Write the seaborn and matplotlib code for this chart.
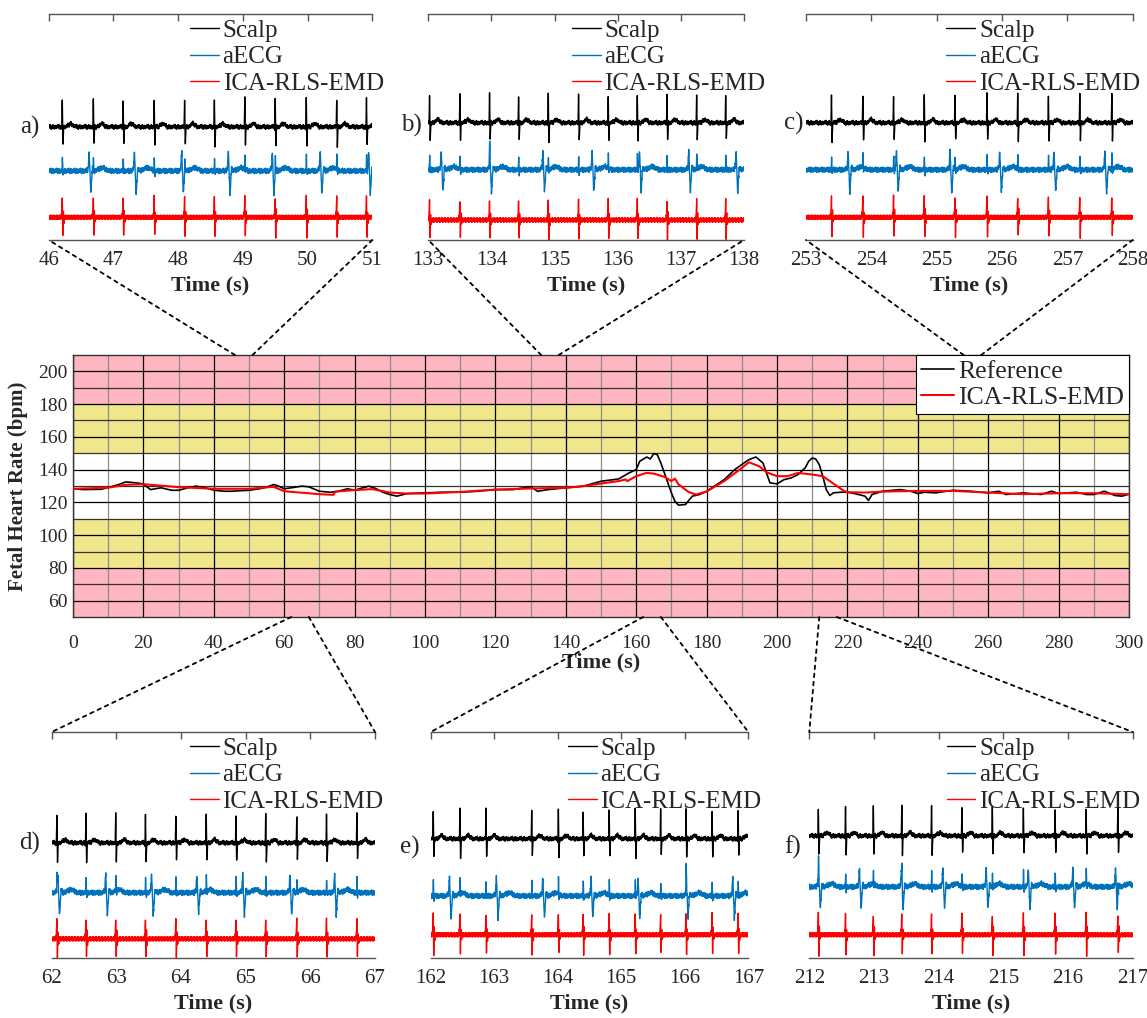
import matplotlib

matplotlib.use("Agg")
import matplotlib.pyplot as plt
from matplotlib.lines import Line2D
from matplotlib.patches import ConnectionPatch
import numpy as np
import seaborn as sns

# ---- fetal heart rate trace (main panel) ----
REF_TIME = [0, 3, 8, 10, 13, 15, 18, 20, 22, 25, 28, 30, 33, 35, 38, 40, 43, 45, 50, 53, 55, 57, 58,
            60, 62, 65, 67, 70, 73, 75, 78, 80, 82, 84, 86, 88, 90, 92, 95, 100, 105, 110, 115, 120,
            125, 128, 130, 132, 135, 140, 145, 150, 155, 158, 160, 161, 163, 164, 165, 166, 167, 169,
            170, 171, 172, 174, 175, 176, 178, 180, 185, 188, 190, 192, 194, 196, 197, 198, 200, 202,
            204, 206, 208, 209, 210, 211, 212, 213, 214, 215, 216, 218, 220, 222, 225, 226, 227, 230,
            235, 238, 240, 242, 245, 250, 255, 260, 263, 265, 270, 275, 278, 280, 285, 288, 290, 293,
            296, 298, 300]
REF_FHR = [128.3, 127.8, 128.0, 129.1, 130.9, 132.5, 131.9, 131.3, 127.8, 128.9, 127.4, 127.4, 129.1,
           129.9, 128.7, 127.4, 126.8, 126.8, 127.4, 128.3, 129.3, 130.9, 130.3, 128.3, 128.9, 129.9,
           129.5, 126.8, 126.2, 126.6, 128.3, 127.4, 128.7, 129.9, 128.5, 126.2, 124.8, 123.8, 125.4,
           125.8, 126.2, 126.2, 126.8, 127.8, 127.8, 128.9, 129.5, 126.8, 127.8, 128.9, 129.9, 132.9,
           134.3, 138.0, 140.0, 145.1, 147.7, 146.5, 149.8, 149.1, 144.1, 131.9, 125.8, 120.7, 118.3,
           118.7, 121.4, 123.8, 124.8, 126.8, 133.9, 140.0, 143.1, 146.1, 147.7, 144.1, 138.0, 131.9,
           131.3, 133.9, 134.9, 137.0, 141.1, 145.1, 147.1, 146.5, 143.1, 136.0, 127.8, 124.2, 125.8,
           126.2, 126.2, 125.4, 123.8, 121.2, 124.8, 126.8, 127.8, 126.8, 125.4, 126.2, 125.8, 127.4,
           126.8, 125.8, 126.8, 124.8, 125.8, 124.8, 126.8, 125.4, 126.2, 124.8, 124.8, 126.8, 124.2,
           123.8, 125.0]
ICA_TIME = [0, 10, 15, 20, 30, 40, 50, 57, 60, 70, 74, 74.5, 80, 85, 90, 95, 100, 110, 120, 130, 140,
            145, 150, 155, 157, 157.5, 160, 163, 165, 168, 170, 171, 172, 175, 177, 180, 185, 190, 192,
            195, 197, 200, 203, 206, 210, 213, 215, 217, 219, 220, 225, 230, 240, 250, 260, 270, 280,
            290, 300]
ICA_FHR = [128.3, 129.0, 130.7, 131.1, 129.3, 128.3, 128.3, 129.5, 126.8, 125.0, 124.6, 126.6, 127.5,
           128.1, 126.0, 125.4, 125.4, 126.4, 127.8, 128.5, 128.9, 129.9, 131.5, 133.0, 134.0, 133.0,
           136.0, 138.0, 137.6, 135.6, 133.0, 134.5, 131.0, 126.2, 124.8, 126.6, 133.0, 141.0, 144.5,
           142.0, 138.4, 136.0, 136.0, 138.0, 137.0, 136.0, 133.0, 130.0, 127.0, 126.2, 126.0, 126.6,
           127.0, 127.0, 126.0, 125.0, 125.6, 125.6, 125.0]

# ---- zoomed ECG windows (start second of each 5 s window) ----
WINDOW_START = [46, 133, 253, 62, 162, 212]
PANEL_LABELS = ["a)", "b)", "c)", "d)", "e)", "f)"]

FETAL_BEATS_A = [46.21, 46.69, 47.15, 47.63, 48.10, 48.56, 49.03, 49.50, 49.98, 50.45, 50.91]
MATERNAL_BEATS_A = [46.63, 47.33, 48.06, 48.78, 49.46, 50.20, 50.95]
FETAL_BEATS_B = [133.02, 133.50, 133.97, 134.43, 134.90, 135.38, 135.85, 136.31, 136.78, 137.25, 137.71]
MATERNAL_BEATS_B = [133.21, 133.98, 134.82, 135.60, 136.35, 137.13, 137.88]
FETAL_BEATS_C = [253.39, 253.87, 254.34, 254.81, 255.28, 255.77, 256.24, 256.71, 257.19, 257.68]
MATERNAL_BEATS_C = [253.65, 254.39, 255.21, 255.97, 256.80, 257.58]
FETAL_BEATS_D = [62.08, 62.53, 62.99, 63.45, 63.92, 64.39, 64.85, 65.31, 65.79, 66.25, 66.72]
MATERNAL_BEATS_D = [62.10, 62.84, 63.55, 64.25, 64.96, 65.69, 66.38]
FETAL_BEATS_E = [162.04, 162.46, 162.87, 163.59, 164.01, 164.40, 164.81, 165.22, 165.62, 166.02,
                 166.43, 166.84]
MATERNAL_BEATS_E = [162.30, 163.04, 163.77, 164.53, 165.27, 166.03, 166.76]
FETAL_BEATS_F = [212.14, 212.56, 212.99, 213.43, 213.89, 214.36, 214.83, 215.31, 215.80, 216.28, 216.77]
MATERNAL_BEATS_F = [212.15, 212.78, 213.43, 214.07, 214.74, 215.39, 216.08, 216.74]

FETAL_BEATS = [FETAL_BEATS_A, FETAL_BEATS_B, FETAL_BEATS_C, FETAL_BEATS_D, FETAL_BEATS_E, FETAL_BEATS_F]
MATERNAL_BEATS = [MATERNAL_BEATS_A, MATERNAL_BEATS_B, MATERNAL_BEATS_C, MATERNAL_BEATS_D,
                  MATERNAL_BEATS_E, MATERNAL_BEATS_F]

# complex shapes (seconds relative to R peak, amplitude)
SCALP_T = [-0.020, -0.008, 0.000, 0.010, 0.020, 0.060, 0.130, 0.200]
SCALP_V = [0.0, -0.05, 1.25, -0.80, 0.0, 0.0, 0.15, 0.0]
AECG_FETAL_T = [-0.015, -0.004, 0.002, 0.010, 0.020]
AECG_FETAL_V = [0.0, 0.0, 0.65, -0.15, 0.0]
AECG_MAT_T = [-0.050, -0.020, -0.005, 0.020, 0.045, 0.080, 0.200, 0.300]
AECG_MAT_V = [0.0, 0.10, 0.85, -1.00, 0.10, 0.0, 0.15, 0.0]
ICA_T = [-0.020, -0.008, 0.000, 0.008, 0.016, 0.024, 0.035]
ICA_V = [0.0, 0.20, 0.90, -0.85, 0.30, -0.20, 0.0]
RIPPLE = [0.00, 0.06, -0.03, 0.08, 0.02, -0.05, 0.04, -0.07, 0.01, 0.05, -0.02, 0.07, -0.04, 0.03,
          -0.06, 0.02, 0.05, -0.01, -0.05, 0.04, 0.00, -0.03, 0.06]

# vertical baseline of each trace (scalp, aECG, ICA) per window, axis runs 0..10
SCALP_LEVEL = [5.0, 5.18, 5.18, 5.09, 5.27, 5.4]
AECG_LEVEL = [3.05, 3.1, 3.1, 2.88, 2.74, 3.14]
ICA_LEVEL = [1.0, 0.88, 1.0, 0.84, 1.02, 1.02]

W, H = 1147, 1018
SUB_BOXES = [(48.7, 372.3, 240), (428.3, 744.0, 240), (806.0, 1132.7, 240),
             (51.7, 375.0, 958), (430.7, 748.3, 958), (809.3, 1132.7, 958)]
LEG_X = [0.437, 0.455, 0.43, 0.428, 0.432, 0.425]
LABEL_POS = [(-0.027, 127), (-0.021, 125), (-0.009, 123), (-0.036, 843), (-0.034, 847), (-0.027, 847)]

BLUE = "#0072BD"


def build_trace(t, beats, tmpl_t, tmpl_v, level, scale, shift, stretch):
    y = np.full(t.size, level, dtype=float)
    for b in beats:
        y += np.interp(t - b, tmpl_t, tmpl_v, left=0.0, right=0.0)
    texture = np.repeat(np.roll(RIPPLE, shift), stretch)
    y += scale * np.resize(texture, t.size)
    return y


sns.set_theme(style="white")
plt.rcParams["font.family"] = ["Liberation Serif", "DejaVu Serif"]

fig = plt.figure(figsize=(W / 100, H / 100), dpi=100)

# ---- main FHR axes ----
main = fig.add_axes([73 / W, (H - 617) / H, 1056 / W, 262 / H])
for lo, hi, col in [(50, 80, "#FFB6C1"), (80, 110, "#F0E68C"), (150, 180, "#F0E68C"), (180, 210, "#FFB6C1")]:
    main.axhspan(lo, hi, color=col, zorder=0.2, lw=0)
sns.lineplot(x=REF_TIME, y=REF_FHR, color="black", lw=1.2, ax=main, estimator=None, sort=False, zorder=3)
sns.lineplot(x=ICA_TIME, y=ICA_FHR, color="red", lw=1.5, ax=main, estimator=None, sort=False, zorder=4)
main.set_xlim(0, 300)
main.set_ylim(50, 210)
main.set_xticks(range(0, 301, 20))
main.set_xticks(range(10, 300, 20), minor=True)
main.set_yticks(range(60, 201, 20))
main.set_yticks(range(70, 210, 20), minor=True)
main.set_axisbelow(True)
main.grid(which="major", color="black", lw=0.9)
main.grid(which="minor", axis="x", color="#8c8c8c", lw=0.9)
main.grid(which="minor", axis="y", color="#333333", lw=0.9)
main.tick_params(which="both", length=0, labelsize=14)
main.tick_params(axis="x", pad=13)
main.tick_params(axis="y", pad=4)
for s in main.spines.values():
    s.set_color("#333333")
    s.set_linewidth(1.0)
main.set_xlabel("Time (s)", fontsize=16, fontweight="bold", labelpad=0)
main.set_ylabel("Fetal Heart Rate (bpm)", fontsize=15, fontweight="bold", labelpad=7)
leg = main.legend(handles=[Line2D([], [], color="black", lw=1.2), Line2D([], [], color="red", lw=1.5)],
                  labels=["Reference", "ICA-RLS-EMD"], loc="upper right", fontsize=18.5, frameon=True,
                  fancybox=False, edgecolor="black", framealpha=1, borderaxespad=0, borderpad=0.2,
                  handlelength=1.3, handletextpad=0.15, labelspacing=0.12)
leg.get_frame().set_linewidth(0.8)
leg.set_zorder(10)

# ---- zoomed ECG panels ----
for i, start in enumerate(WINDOW_START):
    x0, x1, yb = SUB_BOXES[i]
    ax = fig.add_axes([x0 / W, (H - yb) / H, (x1 - x0) / W, 226 / H])
    t = np.arange(start, start + 5.0001, 0.002)
    scalp = build_trace(t, FETAL_BEATS[i], SCALP_T, SCALP_V, SCALP_LEVEL[i], 1.4, i, 3)
    aecg = build_trace(t, FETAL_BEATS[i], AECG_FETAL_T, AECG_FETAL_V, AECG_LEVEL[i], 1.6, 3 * i + 5, 2)
    for b in MATERNAL_BEATS[i]:
        aecg += np.interp(t - b, AECG_MAT_T, AECG_MAT_V, left=0.0, right=0.0)
    ica = build_trace(t, FETAL_BEATS[i], ICA_T, ICA_V, ICA_LEVEL[i], 1.3, 2 * i + 11, 1)

    sns.lineplot(x=t, y=scalp, color="black", lw=1.0, ax=ax, estimator=None, sort=False)
    sns.lineplot(x=t, y=aecg, color=BLUE, lw=1.0, ax=ax, estimator=None, sort=False)
    sns.lineplot(x=t, y=ica, color="red", lw=1.0, ax=ax, estimator=None, sort=False)

    ax.set_xlim(start, start + 5)
    ax.set_ylim(0, 10)
    ax.set_xticks(range(start, start + 6))
    ax.set_yticks([])
    ax.spines["left"].set_visible(False)
    ax.spines["right"].set_visible(False)
    for side in ("top", "bottom"):
        ax.spines[side].set_color("#555555")
        ax.spines[side].set_linewidth(1.0)
    ax.tick_params(axis="x", direction="in", length=5, width=1, top=True, labeltop=False,
                   labelsize=15, pad=8, color="#555555")
    ax.set_xlabel("Time (s)", fontsize=16, fontweight="bold", labelpad=4)
    ax.legend(handles=[Line2D([], [], color="black", lw=1.0), Line2D([], [], color=BLUE, lw=1.0),
                       Line2D([], [], color="red", lw=1.0)],
              labels=["Scalp", "aECG", "ICA-RLS-EMD"], loc="upper left",
              bbox_to_anchor=(LEG_X[i], 0.975), frameon=False, fontsize=18, borderpad=0,
              borderaxespad=0, handlelength=1.15, handletextpad=0.15, labelspacing=0.15)
    lx, ly = LABEL_POS[i]
    ax.text(lx, (yb - ly) / 226, PANEL_LABELS[i], transform=ax.transAxes, ha="right", va="center",
            fontsize=18)

    # dotted zoom connectors to the FHR axes
    y_main = 210 if i < 3 else 50
    y_sub = 0 if i < 3 else 10
    for xx in (start, start + 5):
        con = ConnectionPatch(xyA=(xx, y_main), coordsA=main.transData, xyB=(xx, y_sub),
                              coordsB=ax.transData, color="black", lw=1.3, linestyle=(0, (2, 2.5)))
        fig.add_artist(con)

fig.savefig("out.png", dpi=100)
